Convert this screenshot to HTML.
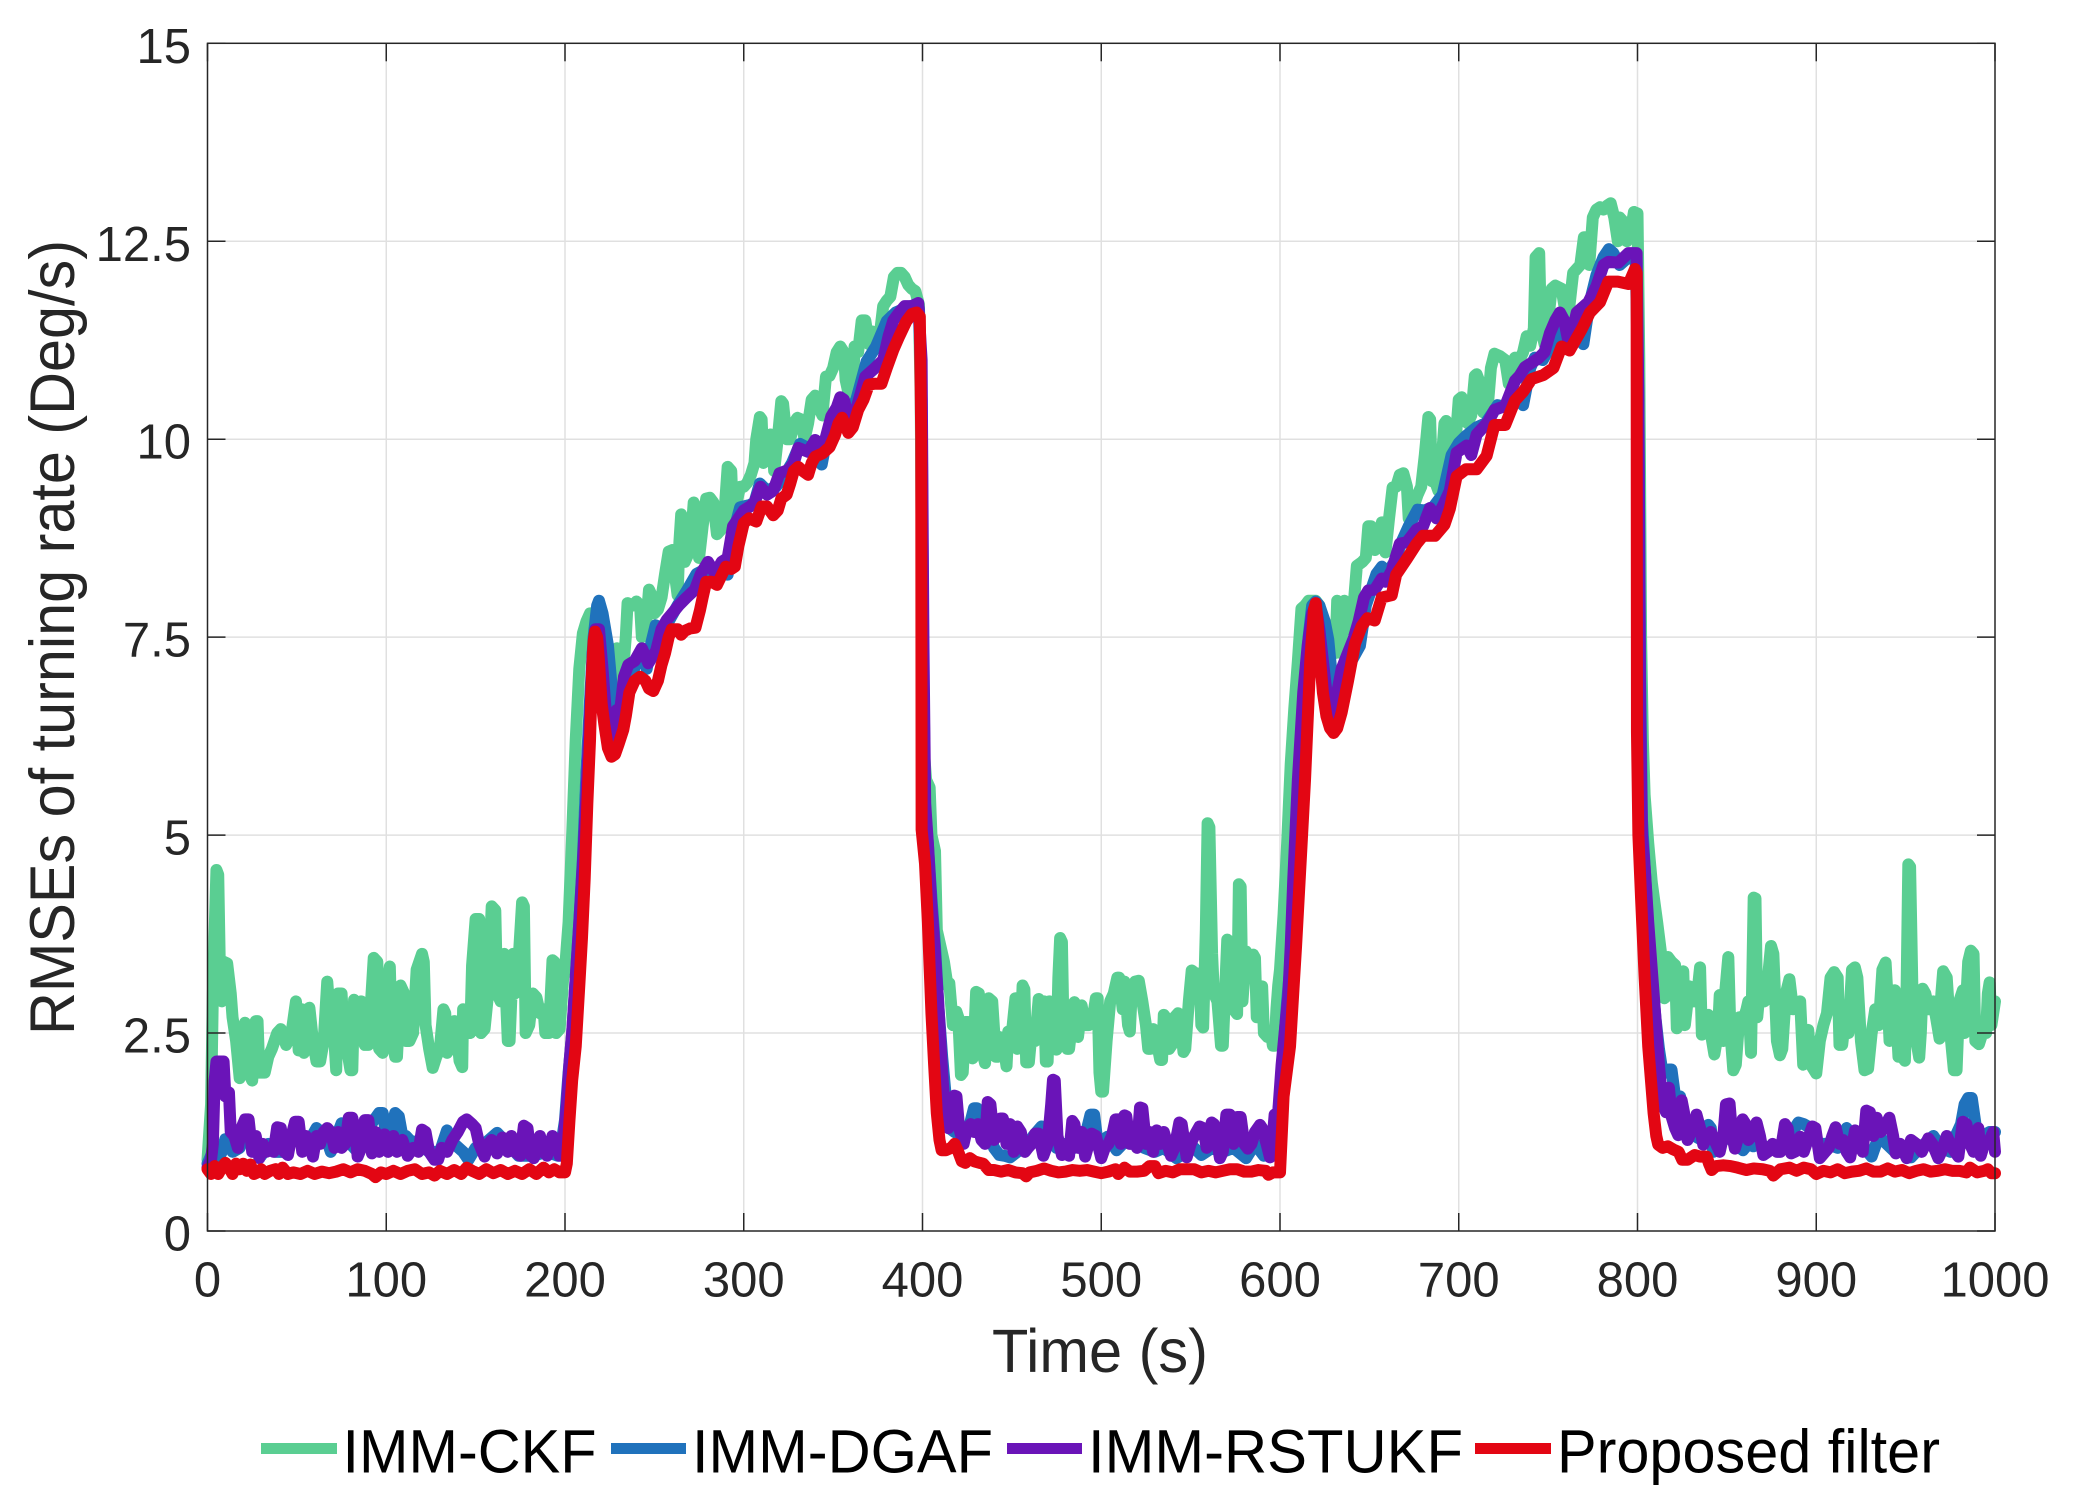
<!DOCTYPE html>
<html lang="en">
<head>
<meta charset="utf-8">
<title>RMSEs of turning rate</title>
<style>
html,body{margin:0;padding:0;background:#fff;}
svg{display:block;}
text{font-family:"Liberation Sans",Arial,sans-serif;}
</style>
</head>
<body>
<svg id="chart" xmlns="http://www.w3.org/2000/svg" width="2078" height="1504" viewBox="0 0 2078 1504">
<rect x="0" y="0" width="2078" height="1504" fill="#ffffff"/>
<g id="grid"></g>
<g id="series"></g>
<g id="axes"></g>
<text x="992" y="1372" font-size="61" fill="#262626" textLength="216" lengthAdjust="spacingAndGlyphs">Time (s)</text>
<text transform="translate(74,1035) rotate(-90)" x="0" y="0" font-size="63" fill="#262626" textLength="795" lengthAdjust="spacingAndGlyphs">RMSEs of turning rate (Deg/s)</text>
<g>
<g>
<rect x="261" y="1443" width="76" height="11" fill="#5ACE92"/>
<text x="342.5" y="1472.5" font-size="61" fill="#000" textLength="254" lengthAdjust="spacingAndGlyphs">IMM-CKF</text>
</g>
<g>
<rect x="611" y="1443" width="75" height="11" fill="#2072BC"/>
<text x="692" y="1472.5" font-size="61" fill="#000" textLength="301" lengthAdjust="spacingAndGlyphs">IMM-DGAF</text>
</g>
<g>
<rect x="1007" y="1443" width="75" height="11" fill="#6A14B8"/>
<text x="1088" y="1472.5" font-size="61" fill="#000" textLength="375" lengthAdjust="spacingAndGlyphs">IMM-RSTUKF</text>
</g>
<g>
<rect x="1475" y="1443" width="76" height="11" fill="#E30613"/>
<text x="1557" y="1472.5" font-size="61" fill="#000" textLength="383" lengthAdjust="spacingAndGlyphs">Proposed filter</text>
</g>
</g>
</svg>
<script>
const xTickValues = [0,100,200,300,400,500,600,700,800,900,1000];
const xTickLabels = ["0","100","200","300","400","500","600","700","800","900","1000"];
const yTickValues = [0,2.5,5,7.5,10,12.5,15];
const yTickLabels = ["0","2.5","5","7.5","10","12.5","15"];

const ckfTime = [
0,2,3,5,6,7,8,9,11,13,
14,16,18,20,21,23,25,27,28,29,
32,34,36,39,41,44,47,49.5,51,53,
54,57,59,61,63,65,67,69,71,72,
73,75,76,78,80,81,82,84,86,88,
90,93,95,96,98,99,102,103,105,106,
108,110,111,113,115,117,120,121,122,124,
126,128,130,132,133,134,137,138,139,141,
142.5,143,145,147,148,150,152,153,155,157,
159,161,162,164,166,168,169,171,172,174,
176,177,178,180,182,184,186,188,189,191,
193,194,195,197,199,200,202,204,206,208,
210,212,214,216,218,220,224,227,229,230,
232,234,235,238,240,242,243,245,247,248,
250,252,254,256,258,260,262,263,264,265,
266,267,270,272,273,275,277,279,281,283,
285,287,289,291,293,294,296,298,300,302,
304,306,307,309,310,311,313,315,316,317,
319,321,322,324,326,328,330,332,334,336,
338,340,342,344,346,348,350,352,354,356,
357,359,361,362,364,366,368,370,372,374,
376,378,380,382,384,386,388,390,392,394,
396,398,399,400,401,402,404,405,407,408,
410,412,414,415,417,419,420,421.5,422.5,424,
425.5,428,429,430,431.5,433,435,437,439,441,
442,443,445,447,448,450,452,453,455,456,
457,458,459.5,461,463,465,466,468,469,470,
471,473,475,476,477,478,479,481,482,483.5,
485,487,489,491,493,495,497,498,499,500,
501,503,505,507,509,510,512,513,515,516,
517,519,521,523,525,526.3,527.5,529,531,533,
534,535,536,538,539.5,541,543,545,546,547,
549,550.6,553,555,556,557,558.5,559.5,560.5,562,
563,565,567,568,570.5,572,574,576,577,578,
579,581,583,585,586,587,589,590,591,593,
595,596,597,598,599,600,602,604,606,608,
610,612,614,616,618,620,622,625,628,631,
632,634,636,638,639,641,643,646,648,649.4,
651,653,655,657,659,661,663,665,667,669,
671,672,674,677,679,681,683,684,685,687,
688.6,690,692,693,694.7,696,698,700,701.6,703,
705,707,709,710,712,713.7,716,718,720,723,
726,728,730,731.5,734,736,738,740,742,743,
745,746,748,750,752,754,757.5,759,761,763,
764,766,768,770,772,773,775,777,779,781,
783,785,787,789,790,792,794,796,798,800,
801,802,803,804,806,808,811,813,815,816,
817,819,821,822,824,825.6,826.5,828,829,831,
833,835,836,838,839.6,841,843,845,846,848,
849,850.8,852,853.6,855,857,859,861,862,863.5,
865,866,867,869,871,873,874.7,876,878,879.7,
881,883,885,887,889,891,892.7,894,895.5,897,
900,902,904,906,908,910,912,913,914.5,916,
918,920,921.6,923,925,927,929,931,933,935,
937,938.8,940,941,943,944,946,948,949.6,950.5,
951.5,952.5,954,956,957.6,958.5,959.5,961,963,965.5,
967,969,970,971,973,975,977,978.5,980,982,
983,985,986.5,988,989,991,993,995,996,997,
998,1000];
const ckfRmse = [
.9,1.6,3.0,4.56,4.5,3.2,2.9,3.4,3.38,3.0,
2.7,2.4,1.93,2.05,2.63,2.0,1.9,2.65,2.65,2.0,
2.0,2.2,2.3,2.5,2.55,2.35,2.5,2.9,2.28,2.8,
2.25,2.82,2.4,2.14,2.14,2.4,3.15,2.55,2.4,2.03,
3.0,3.0,2.6,2.3,2.03,2.03,2.92,2.75,2.9,2.35,
2.35,3.45,3.4,2.3,2.25,2.9,3.34,2.5,2.2,2.2,
3.1,3.0,2.4,2.4,2.5,3.3,3.5,3.4,2.6,2.3,
2.06,2.2,2.3,2.8,2.75,2.25,2.35,2.65,2.6,2.15,
2.07,2.8,2.7,2.5,3.35,3.94,3.94,2.5,2.55,3.0,
4.1,4.05,3.0,2.9,3.5,2.4,2.4,3.5,3.0,3.4,
4.15,4.1,2.5,2.6,3.0,2.95,2.75,2.8,2.5,2.5,
3.42,3.4,2.5,2.55,3.2,3.3,3.9,5.0,6.2,7.1,
7.55,7.7,7.8,7.8,7.8,7.6,7.2,6.9,7.36,7.2,
6.94,7.5,7.93,7.9,7.95,7.9,7.5,7.55,8.1,8.05,
7.8,7.85,8.0,8.3,8.58,8.6,8.2,8.03,8.7,9.05,
9.0,8.45,8.6,9.2,9.15,8.5,8.9,9.25,9.26,9.2,
8.8,8.85,9.0,9.65,9.6,9.0,9.2,9.4,9.4,9.45,
9.55,9.7,10.0,10.28,10.25,9.7,10.0,10.06,10.05,9.6,
10.0,10.48,10.45,10.0,10.0,10.2,10.27,10.25,10.0,10.2,
10.5,10.55,10.4,10.3,10.79,10.8,10.9,11.1,11.17,11.1,
10.75,10.54,10.6,11.17,11.1,11.5,11.5,11.2,11.36,11.3,
11.3,11.68,11.75,11.8,12.05,12.1,12.1,12.05,11.95,11.9,
11.87,11.7,10.5,7.2,6.0,5.7,5.6,5.0,4.8,3.8,
3.6,3.4,3.1,3.13,2.6,2.77,2.7,1.97,2.0,2.64,
2.64,2.18,2.5,3.02,3.0,2.3,2.12,2.94,2.9,2.2,
2.2,2.45,2.4,2.08,2.52,2.5,2.94,2.3,2.5,3.1,
3.05,2.13,2.13,2.5,2.4,2.93,2.9,2.9,2.14,2.14,
2.9,2.85,2.29,3.2,3.7,3.65,2.4,2.3,2.3,2.6,
2.89,2.45,2.85,2.6,2.6,2.65,2.94,2.94,2.0,1.76,
1.76,2.4,2.9,3.0,3.2,3.2,2.8,3.15,2.6,2.52,
3.0,3.15,3.16,2.9,2.6,2.3,2.3,2.55,2.4,2.16,
2.16,2.73,2.7,2.3,2.35,2.7,2.75,2.5,2.26,2.3,
2.9,3.29,3.25,3.25,2.6,2.57,3.8,5.15,5.1,3.5,
3.0,2.9,2.34,2.34,3.68,3.65,2.8,2.74,4.38,4.35,
2.9,3.53,3.4,3.49,3.45,2.7,3.05,3.09,2.5,2.45,
2.5,2.34,2.34,2.8,3.1,3.3,4.0,4.9,5.9,6.6,
7.2,7.86,7.9,7.96,7.96,7.96,7.9,7.6,7.4,7.3,
7.96,7.3,7.96,7.9,7.6,7.85,8.4,8.45,8.5,8.9,
8.9,8.6,8.7,8.95,8.57,9.0,9.39,9.4,9.55,9.57,
9.4,9.0,9.1,9.3,9.4,9.8,10.28,10.25,9.47,9.45,
9.35,9.6,10.2,10.23,9.71,9.7,9.9,10.5,10.53,10.4,
10.2,10.3,10.8,10.82,10.7,10.34,10.35,10.9,11.08,11.05,
11.0,10.7,10.9,11.03,11.0,11.1,11.3,11.18,11.4,12.3,
12.35,11.4,11.2,11.5,11.9,11.94,11.9,11.7,11.5,11.9,
12.1,12.15,12.2,12.55,12.55,12.2,12.8,12.9,12.93,12.9,
12.95,12.98,12.8,12.5,12.8,12.75,12.5,12.6,12.87,12.85,
11,7.5,6.2,5.5,4.9,4.4,3.9,3.54,2.94,2.96,
3.46,3.4,3.36,2.56,3.0,3.28,2.6,2.9,3.09,2.9,
2.9,3.33,2.48,2.5,2.73,2.5,2.23,2.5,2.98,2.4,
3.0,3.46,2.5,2.03,2.1,2.7,2.65,2.8,2.9,2.25,
4.21,4.2,2.7,3.2,2.9,3.2,3.6,3.5,2.4,2.22,
2.3,3.0,3.18,2.8,2.85,2.9,2.1,2.3,2.54,2.1,
1.99,2.4,2.6,2.75,3.2,3.27,3.2,2.35,2.35,2.65,
2.5,3.3,3.33,3.2,2.4,2.03,2.05,2.5,2.8,2.6,
3.3,3.39,2.9,2.4,2.9,3.04,2.2,2.2,2.15,3.0,
4.63,4.6,2.8,2.4,2.19,2.5,3.06,3.0,2.8,2.9,
2.7,2.43,3.0,3.28,3.2,2.5,2.03,2.03,2.9,3.04,
2.5,3.4,3.54,3.5,2.4,2.36,2.5,2.5,3.0,3.14,
2.6,2.9];

const dgafTime = [
0,2,4,6,8,10,12,14,18,22,
26,30,34,38,44,50,56,61,66,69,
75,80,84,90,96,98,101,105,107,109,
111,113,118,124,130,134,138,143,146,150,
155,162,168,174,182,190,196,198,200,202,
204,206,208,210,212,214,216,218,219,221,
224,226,228,230,232,234,236,240,243,245.7,
248,250.7,254,258,263,268,273.6,278,283,287,
291,294,298,303.5,306,309,313,318,323,327,
331.5,335,340,343.6,348,354,358,363,368.7,374,
380,385,390,396,398,399.5,400.5,401.5,403,405,
407,409,411,413,415,418,422,426,428.8,430.5,
433,437,440,443,446,449,453,458,462,466.6,
470,475,480,485,490,494,496,498,503.5,508.6,
512,518,524,530,535,542,548,552,556,562,
568,574,581,586,591,596,598,600,602,604,
606,608,610,612,614,616,618,620,622,625,
627,629,630,632,634,637,640,644.7,648,651,
654,657,660,664,668,672,677,681,686,691,
696,700,704,710,715,721.8,727,731,736,740,
742.6,747,752,757,762,766,769.7,773,777,781,
784,786.5,790,795,799,800.5,801.5,802.5,804,806,
808,810,812,814,816,817.6,819,821,823.8,827,
832,836,839.6,841,842.4,846,851,855,859,862,
864.8,868,873,879,884,888,890,893,897,901,
906,912,917,920,925,931,935,939.4,944,948,
953,958,965.5,970,975,978,981,983,985,987,
989.7,993,997,1000];
const dgafRmse = [
.85,.95,.85,.9,1.0,1.16,1.1,1.0,1.05,1.3,
1.15,.95,1.1,1.0,1.0,1.3,1.1,1.3,1.2,1.0,
1.36,1.1,1.0,1.3,1.49,1.49,1.1,1.49,1.45,1.2,
1.2,1.15,1.1,1.0,1.0,1.27,1.1,1.0,.9,1.05,
1.1,1.24,1.1,.95,.95,1.0,.95,1.1,1.4,2.0,
2.5,3.2,3.9,4.7,5.8,6.7,7.5,7.9,7.96,7.8,
7.4,6.9,6.5,6.2,6.3,6.6,6.9,7.2,7.3,7.1,
7.4,7.65,7.6,7.7,7.9,8.08,8.3,8.35,8.3,8.3,
8.29,8.8,9.14,9.17,9.2,9.44,9.35,9.4,9.55,9.7,
9.94,9.9,9.8,9.68,10.2,10.4,10.3,10.5,10.98,11.17,
11.49,11.6,11.65,11.7,11.65,10.5,7,5.3,4.9,4.2,
3.6,2.8,2.2,1.7,1.3,1.25,1.2,1.3,1.55,1.55,
1.25,1.25,1.05,.96,.95,.93,1.0,1.05,1.2,1.32,
1.3,1.05,1.1,1.05,1.1,1.47,1.47,1.1,1.19,1.02,
1.1,1.15,1.05,1.0,1.05,.92,1.0,1.05,.96,1.05,
1.0,1.05,.92,1.1,.95,1.1,1.3,1.7,2.3,2.9,
3.4,4.4,5.3,6.2,6.9,7.5,7.9,7.95,7.9,7.7,
7.47,7.0,6.7,6.7,6.8,7.05,7.2,7.39,7.9,8.1,
8.3,8.39,8.3,8.45,8.7,8.9,9.11,9.1,9.15,9.3,
9.8,9.95,10.04,10.15,10.2,10.43,10.4,10.6,10.43,10.9,
11.03,11.0,11.2,11.4,11.2,11.3,11.2,11.7,12.07,12.3,
12.4,12.35,12.2,12.3,12.3,10.5,7,5.2,4.6,3.8,
3.2,2.7,2.3,2.0,2.0,2.04,2.04,1.7,1.7,1.35,
1.2,1.15,1.34,1.3,1.0,1.1,1.2,1.1,1.02,1.1,
1.07,1.1,1.05,1.05,1.2,1.3,1.37,1.35,1.3,1.1,
1.1,1.05,1.3,1.2,1.1,.94,1.2,1.1,1.0,1.05,
.93,1.05,1.2,1.05,1.0,1.2,1.35,1.6,1.68,1.68,
1.25,1.2,1.25,1.25];

const rstukfTime = [
0,2,3,4,5,7,9,10,12,13,
15,17,19,21,23,25,27,29,31,33,
35,37,39,41,43,45,47,49,51,53,
55,57,59,61,63,65,67,69,71,73,
75,77,79,81,83,84,86,88,90,92,
94,96,99,101,104,106,109,112,115,118,
120,122,124,127,129,131,134,137,140,143,
145,148,150,152,155,157,159,162,165,168,
170,172,175,177,179,181,182.5,184,186,188,
190,193,195,197,199,201,202.5,204,206,208,
210,212,214,215.5,217,219,221,223,225,227,
229,231,233,235.4,239,243,246.6,251,254,257,
260,264,268,272.7,276,280,284,287.6,291,294,
297,300,303.5,306,309.4,313,316.5,320,325,328,
330.5,336,340,344.5,349,352,354,356,358.5,363,
368,372.5,378,381,383.7,387,390,394,397.6,399.5,
400.5,401.5,403,405,407,409,411,412.5,414.4,416,
417.8,419,420.5,423,425,427,429,431,433,435,
436.5,438,440,442,443.5,445,447,449,451,453,
455,457.3,459,461,463,465,467.6,470,472,473,
474,475.5,478,480,482,483.8,485,487,489,491,
493,494.6,497,500,502,504,506,508,510,511,
513,514,516,518,520,521.7,523,525,527,529,
531,533,535,537,539,541,543.7,545,547.8,550,
552,555,557,559,561.8,563,566.4,568,570,572,
574,576,578,580,582,584,586,588.8,590,592.5,
594.4,596,597,599,600.9,603,604.6,606,607.4,610,
613,615.5,618,620,622,624,626,628,630,632,
634.5,638,641,644,647,649.4,653,656.9,659,662.5,
667,671,676.4,680,683.9,687.6,691.4,695,698.8,704.4,
707,710,716.5,720,726,731.5,734,737,744.5,748,
751,754,756.6,759,761.3,763,766,772.5,777,781,
783.7,789.3,794.9,799.5,800.5,801.5,802.5,804,806,808,
810,812,814,816,817.6,819,821,822.8,824.7,826,
828,831,833,835,836.8,839,841,843,846,848,
849.5,851.5,853,854.5,856.5,858.8,860.5,862,864,866.6,
868.5,870.4,873,875.6,878,880,882.5,884,886,888,
891,893,896,897.8,899.5,902,905,907,909,910.8,
913,915,917,919,921.7,924,926,928,930,932,
933.8,936,938,940.9,943,944.5,947,950.6,953,956,
959,962.7,965,968.3,970,973,976,979.5,982,984,
986,988,990.7,992,994,997,999,1000];
const rstukfRmse = [
.8,.9,1.1,1.9,2.14,2.14,2.14,1.7,1.75,1.25,
1.2,1.05,1.3,1.41,1.41,1.0,1.2,.92,1.1,1.0,
1.05,1.0,1.31,1.3,1.0,.96,1.2,1.38,1.38,1.0,
1.2,1.1,.94,1.2,1.1,1.25,1.3,1.25,1.05,1.25,
1.05,1.1,1.43,1.43,1.2,.94,1.05,1.4,1.4,.98,
1.25,1.0,1.22,1.0,1.2,1.0,1.15,.95,1.05,1.0,
1.28,1.25,1.0,.9,.9,1.05,1.0,1.15,1.25,1.38,
1.41,1.35,1.3,1.1,.94,1.1,1.15,.98,1.18,1.0,
1.2,1.0,.95,1.33,1.3,.95,.92,1.0,1.2,1.0,
.95,1.2,1.15,.95,1.1,1.6,2.12,2.5,3.2,3.9,
4.65,5.5,6.5,7.3,7.6,7.6,7.1,6.5,6.1,6.1,
6.58,6.6,7.0,7.15,7.2,7.36,7.17,7.33,7.6,7.72,
7.8,7.91,8.0,8.1,8.3,8.45,8.3,8.45,8.5,8.9,
9.0,9.1,9.15,9.2,9.4,9.3,9.35,9.57,9.61,9.7,
9.89,9.84,9.99,9.9,10.29,10.4,10.53,10.5,10.29,10.38,
10.79,10.88,11.0,11.3,11.5,11.6,11.68,11.68,11.72,11,
7.5,5.4,4.9,4.1,3.5,2.8,2.0,1.5,1.3,1.5,
1.71,1.7,1.3,1.1,1.3,1.35,1.25,1.35,1.15,1.1,
1.63,1.6,1.15,1.2,1.42,1.42,1.1,1.35,1.0,1.32,
1.25,1.0,1.05,1.1,1.23,1.23,.95,1.1,1.6,1.91,
1.9,1.2,.96,1.0,.95,1.39,1.35,1.05,1.25,.94,
1.1,1.23,1.2,.92,1.05,1.1,1.2,1.41,1.41,1.1,
1.46,1.45,1.1,1.25,1.05,1.56,1.55,1.1,1.25,1.0,
1.27,1.1,1.25,1.1,.95,1.05,1.37,1.35,.93,1.1,
1.2,1.32,1.3,1.05,1.37,1.35,.92,1.0,1.47,1.47,
1.1,1.44,1.44,1.1,1.04,1.1,1.25,1.34,1.3,1.1,
.93,1.2,1.47,1.5,2.1,2.6,2.96,3.6,4.43,5.7,
6.8,7.4,7.8,7.9,7.6,7.2,6.8,6.5,6.5,6.8,
7.1,7.3,7.47,7.7,8.0,8.09,8.1,8.24,8.2,8.34,
8.68,8.7,8.86,8.9,9.13,9.0,9.17,9.35,9.83,9.92,
9.8,10.06,10.22,10.37,10.42,10.74,10.8,10.91,11.02,11.1,
11.34,11.5,11.6,11.5,11.24,11.3,11.6,11.73,11.93,12.2,
12.24,12.23,12.35,12.35,10.5,6.5,5.0,4.6,3.9,3.3,
2.7,2.1,1.6,1.5,1.81,1.45,1.3,1.21,1.65,1.5,
1.15,1.3,1.47,1.3,1.09,1.2,1.25,1.15,1.0,1.2,
1.6,1.61,1.2,1.04,1.2,1.41,1.35,1.15,1.2,1.37,
1.2,.96,1.0,1.1,1.0,1.0,1.35,1.3,.98,1.0,
1.19,1.0,1.2,1.32,1.3,.92,1.0,1.05,1.2,1.31,
1.1,1.15,1.0,.93,1.27,1.1,1.0,1.52,1.5,1.2,
1.43,1.25,1.3,1.43,1.2,.98,1.1,.92,1.15,1.1,
1.0,1.17,1.1,.92,1.0,1.2,1.05,.94,1.38,1.35,
1.1,1.0,1.3,.95,1.1,1.15,1.25,1.0];

const proposedTime = [
0,2,4,6,8,10,12,14,16,18,
20,22,24,26,28,30,32,35,38,40,
42,45,48,52,56,60,64,68,72,76,
80,84,88,92,94,97,100,104,108,112,
116,120,124,127,130,134,138,142,145,148,
152,156,160,164,168,172,176,180,184,188,
191,194,197,200,201,202.5,204,206,208,209.5,
211,212.5,214,215,216,216.8,218,219,220.5,222,
224,226,228,230,232.6,234,236,239,242,245,
247,249.4,252,254,256,258,259.7,263,265,267,
270,273,275.5,277,279,282,285,288,290,293,
295,297,300,303,307,310,313,316.5,319,321,
324,326,328,330.5,333,336,338,340,344,348,
351,353,355,358.5,361,364,367,370,373,377,
380,383.7,387,391,394,396.7,398.5,399.3,399.5,401.4,
403,405,406.5,408,409.5,410.7,413,416,418,420,
422,424,426.5,429,432,434,437,440,444,448,
452,456,458,460,464,468,472,476,480,484,
488,492,496,500,504,508,509.5,513,516,520,
524,527,530,532,536,540,544,548,552,556,
560,564,568,572,576,580,584,588,592,593.5,
596,600,602,605.6,609,612,614,617,619,620,
621,622.4,624,626,628,630,632,634.5,638,642,
645.7,649,653,656.9,662.5,665,671,676.4,680,686.7,
692,695,698.8,704,710,715.6,720,726,731.5,736,
740.8,747.3,753,757.5,762,768.8,773.4,779,783.7,789,
795,798.6,799.5,799.7,800.5,802,804,806,809,810.5,
811.6,814,817,820,823,825,828,832,835,838.7,
840,841.5,844,848,852,856,861,865,870,874,
876,880,885,889,893,897,900,904,908,912,
916,920,924,928,932,936,940,944,948,952,
956,960,964,968,972,976,980,984,986,990,
994,996,998,1000];
const proposedRmse = [
.78,.72,.82,.72,.8,.86,.8,.72,.85,.78,
.85,.76,.84,.72,.74,.78,.72,.76,.78,.72,
.8,.72,.74,.72,.76,.72,.75,.73,.75,.78,
.74,.78,.76,.72,.68,.74,.72,.76,.72,.76,
.78,.72,.74,.7,.76,.72,.77,.72,.8,.76,
.72,.78,.73,.77,.72,.76,.72,.78,.72,.8,
.74,.78,.74,.74,.85,1.4,1.9,2.33,3.1,3.7,
4.44,5.4,6.2,7.0,7.45,7.57,7.5,7.2,6.66,6.4,
6.1,5.99,6.02,6.15,6.33,6.5,6.8,6.95,7.0,6.95,
6.85,6.82,6.95,7.15,7.3,7.5,7.6,7.6,7.53,7.58,
7.61,7.62,7.84,8.0,8.2,8.2,8.16,8.3,8.39,8.36,
8.39,8.65,8.94,9.0,8.96,9.15,9.15,9.04,9.1,9.25,
9.3,9.44,9.6,9.65,9.6,9.55,9.7,9.78,9.82,9.9,
10.05,10.2,10.27,10.08,10.15,10.37,10.5,10.69,10.7,10.7,
10.9,11.13,11.3,11.49,11.58,11.6,11.55,10,5.07,4.64,
3.9,2.75,2.1,1.49,1.15,1.02,1.02,1.05,1.1,1.0,
.88,.86,.92,.88,.86,.85,.77,.77,.75,.77,
.74,.73,.69,.74,.76,.79,.76,.74,.75,.77,
.76,.77,.75,.73,.75,.78,.72,.8,.75,.75,
.76,.82,.82,.73,.76,.74,.78,.78,.78,.74,
.76,.74,.76,.78,.78,.75,.75,.77,.76,.71,
.74,.74,1.7,2.33,3.6,4.85,5.7,7.23,7.85,7.93,
7.7,7.23,6.8,6.5,6.35,6.29,6.35,6.55,6.94,7.42,
7.64,7.74,7.71,8.0,8.03,8.29,8.49,8.68,8.78,8.78,
8.92,9.12,9.53,9.62,9.62,9.79,10.18,10.18,10.49,10.6,
10.76,10.81,10.9,11.17,11.12,11.39,11.6,11.73,11.99,11.99,
11.96,12.15,12.1,6.3,5.0,4.2,3.2,2.33,1.49,1.2,
1.09,1.05,1.07,1.03,1.0,.9,.9,.96,.94,.94,
.85,.77,.82,.83,.82,.8,.77,.79,.78,.76,
.7,.78,.8,.76,.8,.78,.72,.76,.74,.78,
.73,.75,.76,.79,.75,.75,.79,.75,.77,.73,
.76,.78,.75,.76,.78,.76,.76,.74,.8,.74,
.76,.78,.73,.73];

const SVG_NS = 'http://www.w3.org/2000/svg';
const plot = { left: 207.5, right: 1995, top: 43.3, bottom: 1231 };
const xMax = 1000;
const yMax = 15;
const tickLength = 18;
function xScale(t) { return plot.left + (t / xMax) * (plot.right - plot.left); }
function yScale(v) { return plot.bottom - (v / yMax) * (plot.bottom - plot.top); }

function makeLine(x1, y1, x2, y2, color, width) {
  const ln = document.createElementNS(SVG_NS, 'line');
  ln.setAttribute('x1', x1);
  ln.setAttribute('y1', y1);
  ln.setAttribute('x2', x2);
  ln.setAttribute('y2', y2);
  ln.setAttribute('stroke', color);
  ln.setAttribute('stroke-width', width);
  return ln;
}
function makeLabel(str, x, y, anchor) {
  const tx = document.createElementNS(SVG_NS, 'text');
  tx.textContent = str;
  tx.setAttribute('x', x);
  tx.setAttribute('y', y);
  tx.setAttribute('text-anchor', anchor);
  tx.setAttribute('font-size', '49');
  tx.setAttribute('fill', '#262626');
  return tx;
}

const gridGroup = document.getElementById('grid');
const axesGroup = document.getElementById('axes');
const seriesGroup = document.getElementById('series');

xTickValues.forEach(function (t, i) {
  const px = xScale(t);
  if (t > 0 && t < xMax) {
    const g = makeLine(px, plot.top, px, plot.bottom, '#e0e0e0', 1.5);
    
    
    gridGroup.appendChild(g);
  }
  const tb = makeLine(px, plot.bottom, px, plot.bottom - tickLength, '#262626', 1.5);
  
  
  axesGroup.appendChild(tb);
  const tt = makeLine(px, plot.top, px, plot.top + tickLength, '#262626', 1.5);
  
  
  axesGroup.appendChild(tt);
  const lb = makeLabel(xTickLabels[i], px, 1296.5, 'middle');
  
  
  axesGroup.appendChild(lb);
});

yTickValues.forEach(function (v, i) {
  const py = yScale(v);
  if (v > 0 && v < yMax) {
    const g = makeLine(plot.left, py, plot.right, py, '#e0e0e0', 1.5);
    
    
    gridGroup.appendChild(g);
  }
  const tl = makeLine(plot.left, py, plot.left + tickLength, py, '#262626', 1.5);
  
  
  axesGroup.appendChild(tl);
  const tr = makeLine(plot.right, py, plot.right - tickLength, py, '#262626', 1.5);
  
  
  axesGroup.appendChild(tr);
  const lb = makeLabel(yTickLabels[i], 191, py + 19.5, 'end');
  
  
  axesGroup.appendChild(lb);
});

const frame = document.createElementNS(SVG_NS, 'rect');
frame.setAttribute('x', plot.left);
frame.setAttribute('y', plot.top);
frame.setAttribute('width', plot.right - plot.left);
frame.setAttribute('height', plot.bottom - plot.top);
frame.setAttribute('fill', 'none');
frame.setAttribute('stroke', '#262626');
frame.setAttribute('stroke-width', '1.5');


axesGroup.appendChild(frame);

function drawSeries(times, values, color, name) {
  const n = Math.min(times.length, values.length);
  let d = '';
  for (let i = 0; i < n; i++) {
    d += (i ? 'L' : 'M') + xScale(times[i]).toFixed(2) + ' ' + yScale(values[i]).toFixed(2);
  }
  const path = document.createElementNS(SVG_NS, 'path');
  path.setAttribute('d', d);
  path.setAttribute('fill', 'none');
  path.setAttribute('stroke', color);
  path.setAttribute('stroke-width', '12');
  path.setAttribute('stroke-linejoin', 'round');
  path.setAttribute('stroke-linecap', 'round');
  
  
  seriesGroup.appendChild(path);
}
drawSeries(ckfTime, ckfRmse, '#5ACE92', 'line-imm-ckf');
drawSeries(dgafTime, dgafRmse, '#2072BC', 'line-imm-dgaf');
drawSeries(rstukfTime, rstukfRmse, '#6A14B8', 'line-imm-rstukf');
drawSeries(proposedTime, proposedRmse, '#E30613', 'line-proposed-filter');
</script>
</body>
</html>
